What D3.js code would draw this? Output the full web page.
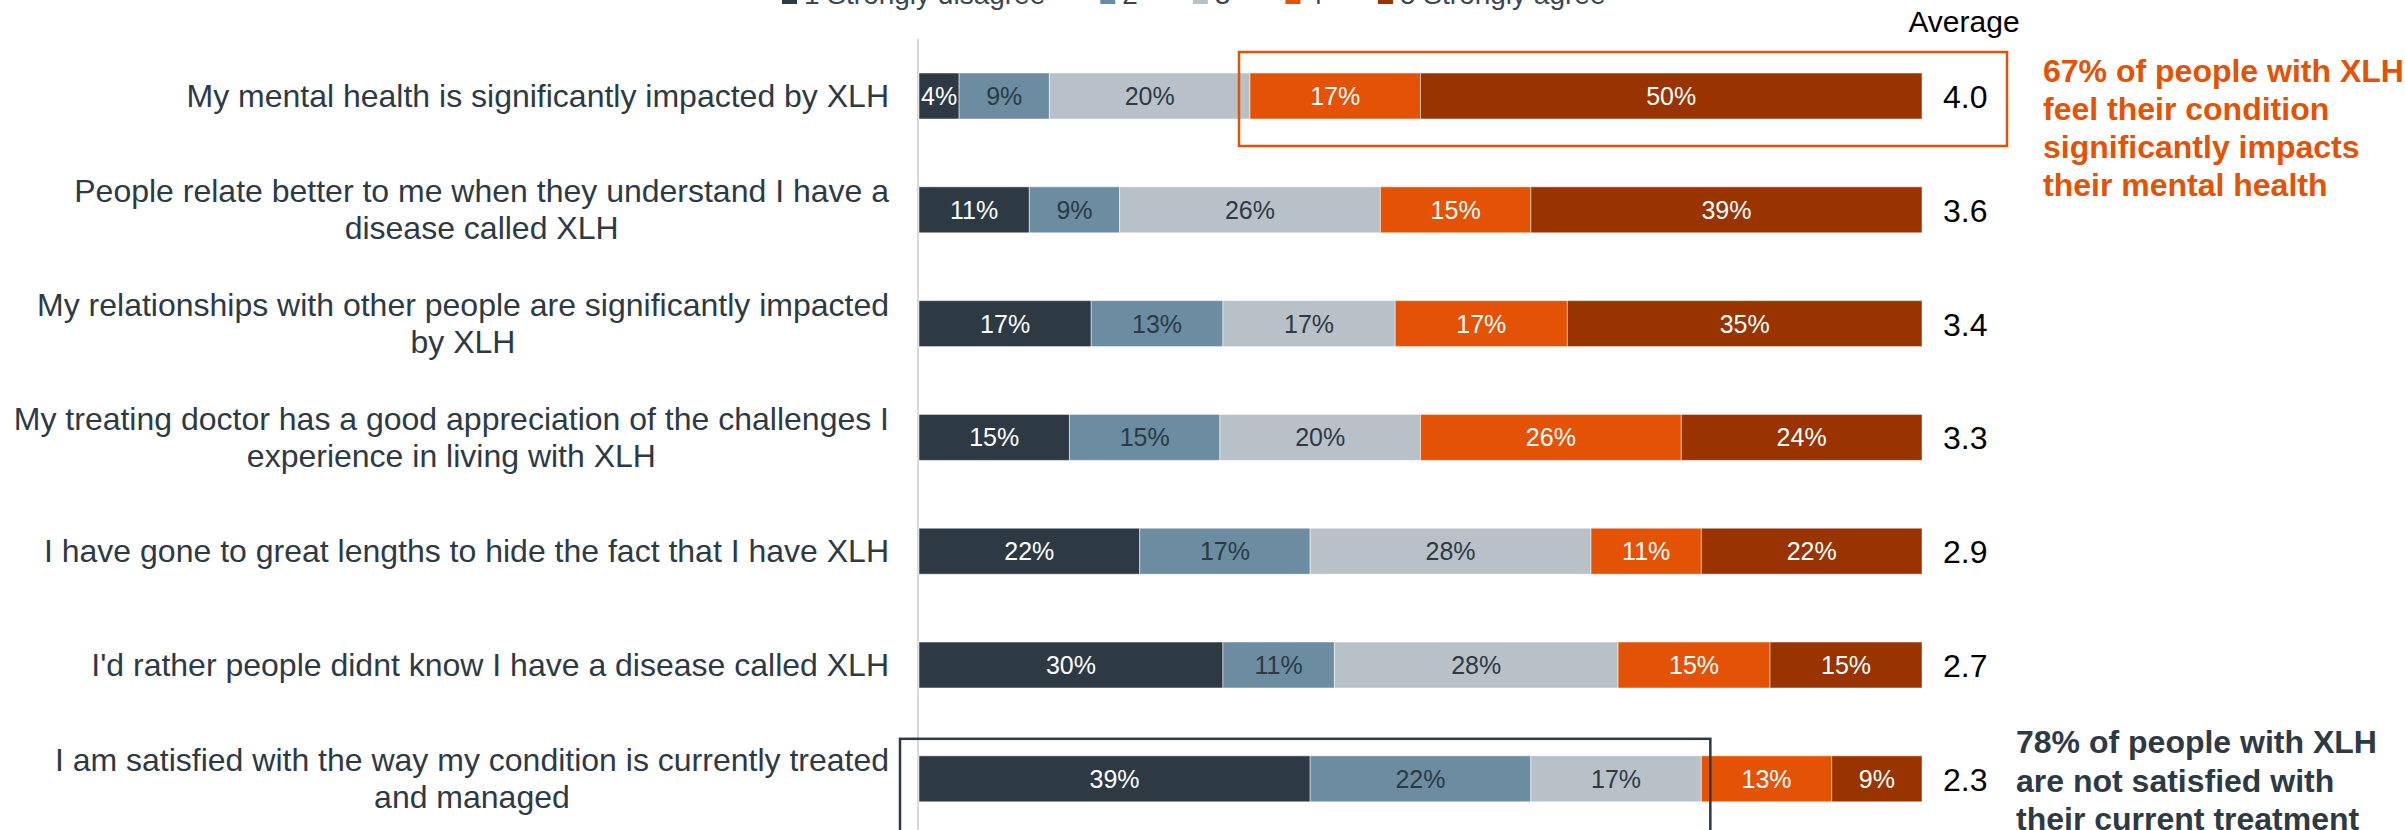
<!DOCTYPE html>
<html><head><meta charset="utf-8">
<script src="https://cdn.jsdelivr.net/npm/d3@7"></script>
<style>
body{margin:0;background:#fff;overflow:hidden;}
svg{display:block;font-family:"Liberation Sans",Arial,sans-serif;}
</style>
</head><body>
<svg id="chart" width="2405" height="830"></svg>
<script>
// ---------- DATA ----------
const categories = [
  "My mental health is significantly impacted by XLH",
  "People relate better to me when they understand I have a disease called XLH",
  "My relationships with other people are significantly impacted by XLH",
  "My treating doctor has a good appreciation of the challenges I experience in living with XLH",
  "I have gone to great lengths to hide the fact that I have XLH",
  "I'd rather people didnt know I have a disease called XLH",
  "I am satisfied with the way my condition is currently treated and managed"
];
const seriesNames = ["1 Strongly disagree", "2", "3", "4", "5 Strongly agree"];
const stronglyDisagree = [4, 11, 17, 15, 22, 30, 39];
const disagree        = [9, 9, 13, 15, 17, 11, 22];
const neutral         = [20, 26, 17, 20, 28, 28, 17];
const agree           = [17, 15, 17, 26, 11, 15, 13];
const stronglyAgree   = [50, 39, 35, 24, 22, 15, 9];
const averages = [4.0, 3.6, 3.4, 3.3, 2.9, 2.7, 2.3];
const averageTitle = "Average";
const note1 = ["67% of people with XLH", "feel their condition", "significantly impacts", "their mental health"];
const note2 = ["78% of people with XLH", "are not satisfied with", "their current treatment"];

// ---------- STYLE ----------
const colors = ["#2d3a44", "#6b8ca1", "#b8c1c7", "#e35205", "#993300"];
const labelColors = ["#ffffff", "#2d3a44", "#2d3a44", "#ffffff", "#ffffff"];
const textDark = "#2d3a44";

const svg = d3.select("#chart");
const keys = ["s1", "s2", "s3", "s4", "s5"];
const series = [stronglyDisagree, disagree, neutral, agree, stronglyAgree];
const table = categories.map((c, i) => {
  const o = {cat: c};
  keys.forEach((k, j) => o[k] = series[j][i]);
  return o;
});
const stacked = d3.stack().keys(keys).offset(d3.stackOffsetExpand)(table);

const x = d3.scaleLinear().domain([0, 1]).range([919, 1922]);
const y = d3.scaleBand().domain(categories)
  .range([39.1, 39.1 + 113.8 * categories.length])
  .paddingInner(0.596).paddingOuter(0.298);
const color = d3.scaleOrdinal().domain(keys).range(colors);

// axis line
svg.append("line")
  .attr("x1", x(0) - 1).attr("x2", x(0) - 1)
  .attr("y1", 39).attr("y2", 830)
  .attr("stroke", "#d9d9d9").attr("stroke-width", 2);

// bars
const groups = svg.append("g").selectAll("g").data(stacked).join("g")
  .attr("fill", d => color(d.key));
groups.selectAll("rect").data(d => d.map(v => ({v, key: d.key}))).join("rect")
  .attr("x", d => x(d.v[0]))
  .attr("width", d => x(d.v[1]) - x(d.v[0]))
  .attr("y", d => y(d.v.data.cat))
  .attr("height", y.bandwidth())
  .attr("stroke", "#ffffff").attr("stroke-opacity", 0.5).attr("stroke-width", 1);

// segment labels
stacked.forEach((s, j) => {
  svg.append("g").selectAll("text").data(s).join("text")
    .attr("x", d => (x(d[0]) + x(d[1])) / 2)
    .attr("y", d => y(d.data.cat) + y.bandwidth() / 2 + 9)
    .attr("text-anchor", "middle")
    .attr("font-size", 25)
    .attr("fill", labelColors[j])
    .text(d => d.data[s.key] + "%");
});

// category labels (wrapped, centered lines, right-aligned block)
const labelRight = 889, maxW = 882, lineH = 37, labelSize = 32;
categories.forEach(c => {
  const g = svg.append("g");
  const words = c.split(" ");
  const lines = [];
  let cur = "";
  const probe = g.append("text").attr("font-size", labelSize);
  words.forEach(w => {
    const t = cur ? cur + " " + w : w;
    probe.text(t);
    if (probe.node().getComputedTextLength() > maxW && cur) { lines.push(cur); cur = w; }
    else cur = t;
  });
  lines.push(cur);
  const widths = lines.map(l => { probe.text(l); return probe.node().getComputedTextLength(); });
  probe.remove();
  const bw = d3.max(widths);
  const cx = labelRight - bw / 2;
  const cy = y(c) + y.bandwidth() / 2;
  lines.forEach((l, i) => {
    g.append("text")
      .attr("x", cx)
      .attr("y", cy + 11 + (i - (lines.length - 1) / 2) * lineH)
      .attr("text-anchor", "middle")
      .attr("font-size", labelSize)
      .attr("fill", textDark)
      .text(l);
  });
});

// averages
const avgX = 1943;
svg.append("text").attr("x", avgX + 21).attr("y", 32)
  .attr("text-anchor", "middle").attr("font-size", 30).attr("fill", "#000")
  .text(averageTitle);
svg.append("g").selectAll("text").data(categories).join("text")
  .attr("x", avgX)
  .attr("y", c => y(c) + y.bandwidth() / 2 + 12)
  .attr("font-size", 32).attr("fill", "#000")
  .text((c, i) => averages[i].toFixed(1));

// legend
const legendX0 = 782;
let lx = legendX0;
const legend = svg.append("g");
keys.forEach((k, i) => {
  legend.append("rect").attr("x", lx).attr("y", -11).attr("width", 15).attr("height", 15)
    .attr("fill", color(k));
  const t = legend.append("text").attr("x", lx + 22).attr("y", 4)
    .attr("font-size", 28).attr("fill", "#3a4650").text(seriesNames[i]);
  lx += 22 + t.node().getComputedTextLength() + 55;
});

// highlight box 1 (agree share of first row)
const r0 = categories[0];
const b1x = x(stacked[3][0][0]) - 11;
svg.append("rect")
  .attr("x", b1x).attr("y", y(r0) - 21)
  .attr("width", avgX + 64 - b1x).attr("height", y.bandwidth() + 48)
  .attr("fill", "none").attr("stroke", colors[3]).attr("stroke-width", 2.5);

// highlight box 2 (disagree share of last row)
const r6 = categories[6];
const b2x = x(0) - 19;
svg.append("rect")
  .attr("x", b2x).attr("y", y(r6) - 17)
  .attr("width", x(stacked[2][6][1]) + 9 - b2x).attr("height", y.bandwidth() + 100)
  .attr("fill", "none").attr("stroke", textDark).attr("stroke-width", 2.5);

// annotations
const n1 = svg.append("g");
note1.forEach((l, i) => n1.append("text")
  .attr("x", 2043).attr("y", 82 + i * 38)
  .attr("font-size", 32).attr("font-weight", "bold").attr("fill", colors[3]).text(l));
const n2 = svg.append("g");
note2.forEach((l, i) => n2.append("text")
  .attr("x", 2016).attr("y", 753 + i * 38.5)
  .attr("font-size", 32).attr("font-weight", "bold").attr("fill", textDark).text(l));
</script>
</body></html>
